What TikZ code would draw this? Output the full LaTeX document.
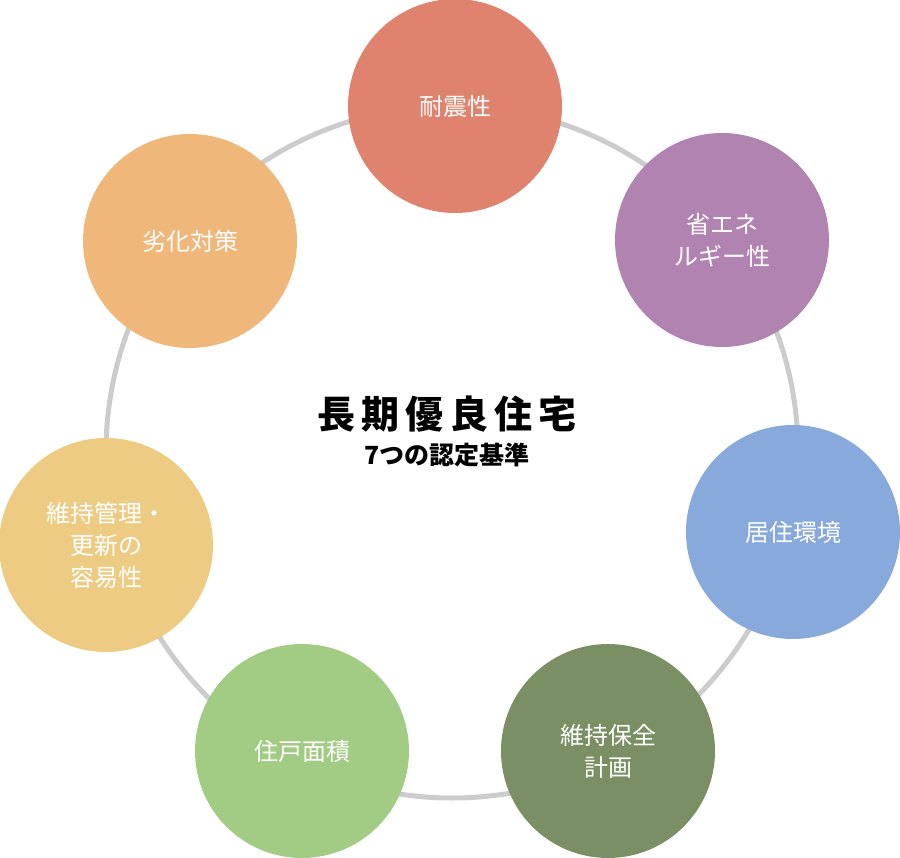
\documentclass[tikz,border=0pt]{standalone}
\usepackage{fontspec}
\usetikzlibrary{positioning}
\newfontfamily\cjk{Noto Sans CJK JP}
\definecolor{cTop}{HTML}{E0836E}
\definecolor{cPurple}{HTML}{B183B0}
\definecolor{cBlue}{HTML}{87A9DB}
\definecolor{cDark}{HTML}{7A8F63}
\definecolor{cLight}{HTML}{A2CB84}
\definecolor{cYellow}{HTML}{EDCB82}
\definecolor{cOrange}{HTML}{F0B77A}
\tikzset{
  crit/.style={circle,minimum size=214pt,inner sep=0pt,text=white,align=center,
    font=\cjk\fontsize{24}{32}\selectfont,fill=#1}
}
\begin{document}
\begin{tikzpicture}[x=1pt,y=-1pt]
\useasboundingbox (0,0) rectangle (900,858);
\draw[line width=5pt,black!20] (452,452) circle (346);
\node[crit=cTop] (taishin) at (455,106) {耐震性};
\node[crit=cPurple] (shoene) at (722,240) {省エネ\\ルギー性};
\node[crit=cBlue] (kyoju) at (793,532) {居住環境};
\node[crit=cDark] (hozen) at (608,751) {維持保全\\計画};
\node[crit=cLight] (menseki) at (302,751) {住戸面積};
\node[crit=cYellow] (koshin) at (106,545) {維持管理・\\更新の\\容易性};
\node[crit=cOrange] (rekka) at (190,241) {劣化対策};
\node[font=\cjk\bfseries\fontsize{38}{44}\selectfont] (title) at (447,414) {長\,期\,優\,良\,住\,宅};
\node[font=\cjk\bfseries\fontsize{25}{30}\selectfont,anchor=north] (sub) at ([yshift=-4pt]title.south) {7つの認定基準};
\end{tikzpicture}
\end{document}
